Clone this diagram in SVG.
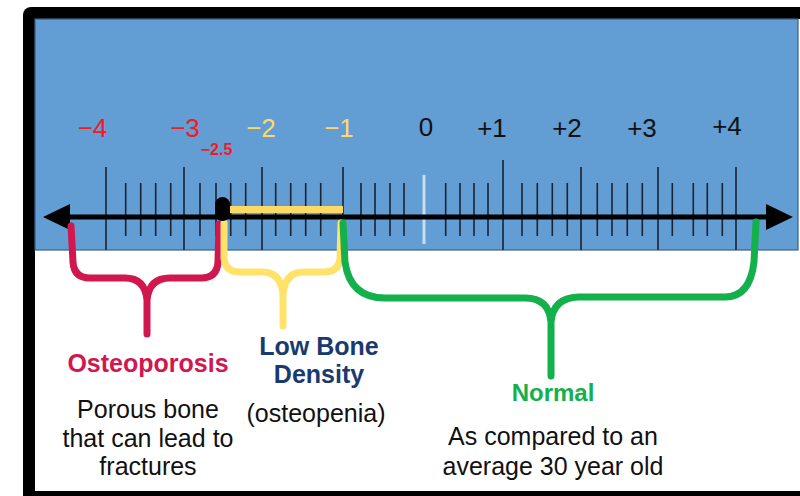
<svg xmlns="http://www.w3.org/2000/svg" width="800" height="496" viewBox="0 0 800 496">
<style>
.num{font-family:"Liberation Sans",Arial,sans-serif;font-size:26px;text-anchor:middle}
.red{fill:#ee1c25}
.yel{fill:#ffd966}
.blk{fill:#111}
.title{font-family:"Liberation Sans",Arial,sans-serif;font-weight:bold;font-size:25px;text-anchor:middle}
.body{font-family:"Liberation Sans",Arial,sans-serif;font-size:25px;text-anchor:middle;fill:#111}
.tick{stroke:#1b2333;stroke-width:1.6;fill:none}
.br{fill:none;stroke-width:7;stroke-linecap:round;stroke-linejoin:round}
</style>
<rect x="0" y="0" width="800" height="496" fill="#fff"/>
<g id="frame">
<rect x="23" y="7" width="800" height="500" rx="8" fill="#000"/>
<rect x="35" y="19" width="800" height="472" fill="#fff"/>
</g>
<g id="scale">
<rect x="35" y="19" width="763" height="231" fill="#629dd3" stroke="#3f5f85" stroke-width="1.2"/>
<path class="tick" d="M106,167V250M184,167V250M262,167V250M343,167V250M503,160V250M581,167V250M658,167V250M736,167V250"/>
<path class="tick" d="M125.7,183V236M140.7,183V236M155.7,183V236M170.7,183V236M200,183V236M216,183V236M230.7,183V236M245.7,183V236M275.7,183V236M290.7,183V236M305.7,183V236M320.7,183V236M361,183V236M375,183V236M390,183V236M404,183V236M445.7,183V236M460,183V236M474,183V236M488,183V236M522,183V236M537.3,183V236M552.3,183V236M567.3,183V236M597.3,183V236M612,183V236M627.3,183V236M642.3,183V236M672.3,183V236M693.3,183V236M707.3,183V236M722.3,183V236"/>
<line x1="424" y1="175" x2="424" y2="244" stroke="#c9ddf5" stroke-width="3"/>
<line x1="66" y1="217" x2="770" y2="217" stroke="#000" stroke-width="5"/>
<polygon points="43,217 70,204 70,230" fill="#000"/>
<polygon points="793,217 766,204 766,230" fill="#000"/>
<line x1="229" y1="209.5" x2="343" y2="209.5" stroke="#ffd966" stroke-width="7"/>
</g>
<g id="axis-labels">
<text class="num red" x="92.5" y="137">−4</text>
<text class="num red" x="185" y="137">−3</text>
<text class="num yel" x="261" y="137">−2</text>
<text class="num yel" x="339" y="137">−1</text>
<text class="num blk" x="426" y="136">0</text>
<text class="num blk" x="492" y="137">+1</text>
<text class="num blk" x="567" y="137">+2</text>
<text class="num blk" x="642" y="137">+3</text>
<text class="num blk" x="727" y="135">+4</text>
<text x="216.5" y="155" fill="#ee1c25" style="font-family:'Liberation Sans',Arial,sans-serif;font-weight:bold;font-size:16px;text-anchor:middle">−2.5</text>
</g>
<g id="connectors">
<path class="br" stroke="#d0174f" d="M71,226 L73,262 Q74,278 90,278 L125,278 Q145,278 147,300 L147,334 M219,224 L218,262 Q217,278 201,278 L170,278 Q149,278 147,300"/>
<path class="br" stroke="#ffe26a" d="M224,223 L224,258 Q225,272 240,272 L262,272 Q281,272 283,294 L283,326 M341,223 L340,258 Q339,272 324,272 L304,272 Q285,272 283,294"/>
<path class="br" stroke="#14b04c" d="M343,223 L345,262 Q350,298 385,298 L525,298 Q549,298 551,322 L551,376 M756,222 L754,262 Q750,297 725,297 L578,297 Q553,298 551,322"/>
</g>
<g id="marker-2-5">
<rect x="215" y="197" width="15" height="24" rx="7.5" fill="#000"/>
</g>
<g id="node-osteoporosis">
<text class="title" x="148" y="372" fill="#d0174f">Osteoporosis</text>
<text class="body" x="148" y="418">Porous bone</text>
<text class="body" x="148" y="447">that can lead to</text>
<text class="body" x="148" y="475">fractures</text>
</g>
<g id="node-low-bone-density">
<text class="title" x="319" y="355" fill="#1a3a6e">Low Bone</text>
<text class="title" x="319" y="383" fill="#1a3a6e">Density</text>
<text class="body" x="316" y="422">(osteopenia)</text>
</g>
<g id="node-normal">
<text class="title" x="553" y="401" fill="#14b04c" style="font-size:24px">Normal</text>
<text class="body" x="553" y="445">As compared to an</text>
<text class="body" x="553" y="475">average 30 year old</text>
</g>
</svg>
